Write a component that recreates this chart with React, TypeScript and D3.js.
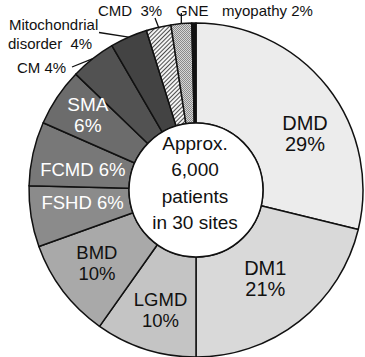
import React from "react";
import * as d3 from "d3";

const categories = ["DMD", "DM1", "LGMD", "BMD", "FSHD", "FCMD", "SMA", "CM", "Mitochondrial disorder", "CMD", "GNE myopathy", "Other"];
const shares = [28.8, 21.2, 9.8, 9.7, 5.9, 6.2, 5.6, 4.4, 3.6, 2.4, 2.0, 0.4];
const pctLabels = ["29%", "21%", "10%", "10%", "6%", "6%", "6%", "4%", "4%", "3%", "2%", ""];
const centerLines = ["Approx.", "6,000", "patients", "in 30 sites"];

const W = 365, H = 357;
const CX = 196, CY = 190;
const R_OUT = 167, R_IN = 67;

const fills = ["#ececec", "#d9d9d9", "#c4c4c4", "#a9a9a9", "#8b8b8b", "#787878", "#6c6c6c", "#525252", "#434343", "url(#hatch)", "url(#dots)", "#111111"];

// inside-label layout: [dx, dy, two-line?, color, fontSize]
const inLayout: Record<string, { dx: number; dy: number; two: boolean; color: string; fs: number }> = {
  DMD: { dx: 17, dy: 16, two: true, color: "#111", fs: 20 },
  DM1: { dx: -3, dy: -3, two: true, color: "#111", fs: 20 },
  LGMD: { dx: 0, dy: 9, two: true, color: "#111", fs: 18.5 },
  BMD: { dx: -6, dy: 2, two: true, color: "#111", fs: 18.5 },
  FSHD: { dx: 2, dy: -6, two: false, color: "#fff", fs: 18.5 },
  FCMD: { dx: 1, dy: 5, two: false, color: "#fff", fs: 18.5 },
  SMA: { dx: -11, dy: -10, two: true, color: "#fff", fs: 19 },
};

export default function App() {
  const pie = d3.pie<number>().sort(null).value((d) => d)(shares);
  const arc = d3.arc<d3.PieArcDatum<number>>().innerRadius(R_IN).outerRadius(R_OUT);
  const labelArc = d3.arc<d3.PieArcDatum<number>>().innerRadius(117).outerRadius(117);
  const edgeArc = d3.arc<d3.PieArcDatum<number>>().innerRadius(R_OUT).outerRadius(R_OUT);
  const font = "'Liberation Sans', Arial, Helvetica, sans-serif";

  const edge = (i: number) => edgeArc.centroid(pie[i]);

  return (
    <svg width={W} height={H} style={{ position: "absolute", left: 0, top: 0, background: "#fff" }} fontFamily={font}>
      <defs>
        <pattern id="hatch" patternUnits="userSpaceOnUse" width="3" height="3" patternTransform="rotate(45)">
          <rect width="3" height="3" fill="#f4f4f4" />
          <line x1="0" y1="0" x2="0" y2="3" stroke="#222" strokeWidth="1.6" />
        </pattern>
        <pattern id="dots" patternUnits="userSpaceOnUse" width="2" height="2">
          <rect width="2" height="2" fill="#d6d6d6" />
          <rect width="1" height="1" fill="#8a8a8a" />
          <rect x="1" y="1" width="1" height="1" fill="#8a8a8a" />
        </pattern>
      </defs>
      <g transform={`translate(${CX},${CY})`}>
        {pie.map((p, i) => (
          <path key={i} d={arc(p) || ""} fill={fills[i]} stroke="#111" strokeWidth={1.5} strokeLinejoin="round" />
        ))}
        <circle r={R_IN} fill="#fff" stroke="#111" strokeWidth={1.5} />
        {centerLines.map((t, i) => (
          <text key={t} x={-1} y={-47 + i * 26.5} textAnchor="middle" dominantBaseline="central" fontSize={19} fill="#111">
            {t}
          </text>
        ))}
        {pie.map((p, i) => {
          const name = categories[i];
          const L = inLayout[name];
          if (!L) return null;
          const [x, y] = labelArc.centroid(p);
          const cx = x + L.dx, cy = y + L.dy;
          if (L.two) {
            return (
              <g key={name} fill={L.color} fontSize={L.fs} textAnchor="middle">
                <text x={cx} y={cy - 10.5} dominantBaseline="central">{name}</text>
                <text x={cx} y={cy + 10.5} dominantBaseline="central">{pctLabels[i]}</text>
              </g>
            );
          }
          return (
            <text key={name} x={cx} y={cy} fill={L.color} fontSize={L.fs} textAnchor="middle" dominantBaseline="central">
              {`${name} ${pctLabels[i]}`}
            </text>
          );
        })}
        {/* leader lines */}
        {(() => {
          const [cmx, cmy] = edge(7);
          const [mix, miy] = edge(8);
          const [cdx, cdy] = edge(9);
          const [gnx, gny] = edge(10);
          return (
            <g stroke="#111" strokeWidth={1.3} fill="none">
              <line x1={72 - CX} y1={67 - CY} x2={cmx} y2={cmy} />
              <line x1={99 - CX} y1={32.5 - CY} x2={mix} y2={miy} />
              <line x1={155 - CX} y1={18 - CY} x2={cdx} y2={cdy} />
              <line x1={gnx} y1={13 - CY} x2={gnx} y2={gny} />
            </g>
          );
        })()}
      </g>
      <g fontSize={15} fill="#111">
        <text x={9} y={29.5}>Mitochondrial</text>
        <text x={8} y={48.5} xmlSpace="preserve">{`disorder  ${pctLabels[8]}`}</text>
        <text x={17} y={72.5}>{`CM ${pctLabels[7]}`}</text>
        <text x={98} y={15.5} xmlSpace="preserve">{`CMD  ${pctLabels[9]}`}</text>
        <text x={176} y={15.5}>GNE</text>
        <text x={222} y={15.5}>{`myopathy ${pctLabels[10]}`}</text>
      </g>
    </svg>
  );
}
